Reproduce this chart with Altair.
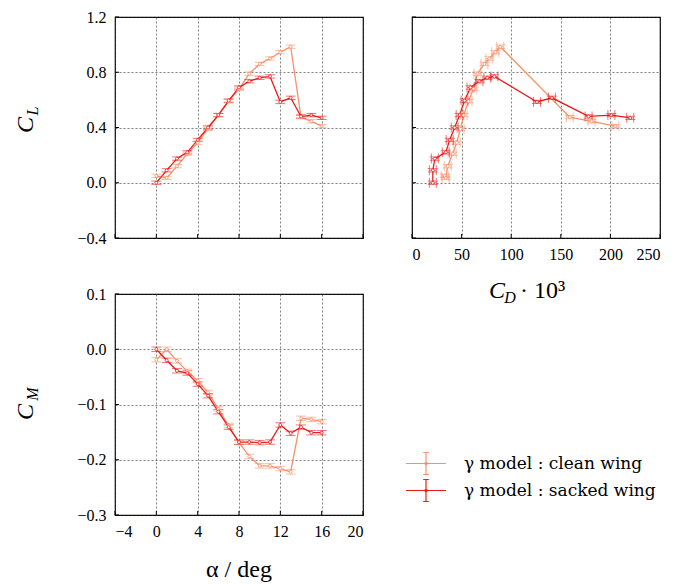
import altair as alt
import pandas as pd

# ---------------- data ----------------
alpha = [0, 1, 2, 3, 4, 5, 6, 7, 8, 9, 10, 11, 12, 13, 14, 15, 16]

cl_clean = [0.05, 0.035, 0.12, 0.21, 0.29, 0.39, 0.49, 0.59, 0.68, 0.79, 0.86, 0.90, 0.945, 0.985, 0.475, 0.445, 0.41]
cl_sacked = [0.0, 0.09, 0.175, 0.22, 0.31, 0.40, 0.49, 0.595, 0.69, 0.735, 0.76, 0.77, 0.585, 0.615, 0.48, 0.49, 0.47]

cd_clean = [33, 34, 36, 41, 45, 49, 52, 57, 62, 66, 73, 78, 84, 89, 159, 181, 205]
cd_sacked = [21, 21, 23, 34, 38, 43, 48, 53, 59, 68, 76, 83, 126, 141, 178, 201, 220]

cm_clean = [-0.019, 0.0, -0.021, -0.040, -0.057, -0.078, -0.108, -0.138, -0.169, -0.194, -0.211, -0.211, -0.216, -0.222, -0.125, -0.127, -0.131]
cm_sacked = [0.0, -0.020, -0.039, -0.043, -0.063, -0.084, -0.113, -0.141, -0.168, -0.168, -0.169, -0.168, -0.137, -0.152, -0.141, -0.151, -0.151]

cl_err = [0.012] * 17
cd_err = [3.5] * 17
cm_err = [0.004] * 17

series_names = ["γ model : clean wing", "γ model : sacked wing"]
series_colors = ["#F8916A", "#EB1B1B"]

alpha_ticks = [-4, 0, 4, 8, 12, 16, 20]
cl_ticks = [-0.4, 0.0, 0.4, 0.8, 1.2]
cd_ticks = [0, 50, 100, 150, 200, 250]
cm_ticks = [-0.3, -0.2, -0.1, 0.0, 0.1]

# ---------------- table ----------------
rows = []
for name, cl, cd, cm in [(series_names[0], cl_clean, cd_clean, cm_clean),
                         (series_names[1], cl_sacked, cd_sacked, cm_sacked)]:
    for i, a in enumerate(alpha):
        rows.append(dict(series=name, alpha=a,
                         CL=cl[i], CL_lo=cl[i] - cl_err[i], CL_hi=cl[i] + cl_err[i],
                         CD=cd[i], CD_lo=cd[i] - cd_err[i], CD_hi=cd[i] + cd_err[i],
                         CM=cm[i], CM_lo=cm[i] - cm_err[i], CM_hi=cm[i] + cm_err[i]))
df = pd.DataFrame(rows)

W, H = 248, 221
FONT = "Liberation Serif"
LEG_FONT = "DejaVu Serif"
LABEL_SIZE = 16

color_scale = alt.Scale(domain=series_names, range=series_colors)

legend_path = ("M-1,0H1M0,-0.55V0.55M-0.14,-0.55H0.14M-0.14,0.55H0.14"
               "M0.05,0A0.05,0.05 0 1,1 -0.05,0A0.05,0.05 0 1,1 0.05,0")


def panel(xf, xdom, xticks, xfmt, yf, ydom, yticks, yfmt,
          show_xlabels, show_ylabels, xerr=False, legend=None):
    xs = alt.Scale(domain=xdom, nice=False, zero=False)
    ys = alt.Scale(domain=ydom, nice=False, zero=False)
    xax = alt.Axis(values=xticks, title=None, labels=show_xlabels, ticks=False,
                   domain=False, grid=True, format=xfmt, labelPadding=8,
                   labelFont=FONT, labelFontSize=LABEL_SIZE, labelColor="black",
                   gridColor="#333333", gridDash=[2, 2], gridWidth=0.7, gridOpacity=0.9)
    yax = alt.Axis(values=yticks, title=None, labels=show_ylabels, ticks=False,
                   domain=False, grid=True, format=yfmt, labelPadding=9,
                   labelFont=FONT, labelFontSize=LABEL_SIZE, labelColor="black",
                   gridColor="#333333", gridDash=[2, 2], gridWidth=0.7, gridOpacity=0.9)
    col = alt.Color("series:N", scale=color_scale, legend=legend)
    base = alt.Chart(df)
    X = lambda f: alt.X(f"{f}:Q", scale=xs, axis=xax)
    Y = lambda f: alt.Y(f"{f}:Q", scale=ys, axis=yax)

    layers = []
    layers.append(base.mark_line(strokeWidth=1.3).encode(
        x=X(xf), y=Y(yf), color=col, order=alt.Order("alpha:Q")))
    # vertical error bars with caps
    layers.append(base.mark_rule(strokeWidth=1, opacity=0.6).encode(
        x=X(xf), y=Y(yf + "_lo"), y2=alt.Y2(yf + "_hi"), color=col))
    for s in ("_lo", "_hi"):
        layers.append(base.mark_tick(orient="horizontal", size=10, thickness=1, opacity=0.6).encode(
            x=X(xf), y=Y(yf + s), color=col))
    if xerr:
        layers.append(base.mark_rule(strokeWidth=1, opacity=0.6).encode(
            y=Y(yf), x=X(xf + "_lo"), x2=alt.X2(xf + "_hi"), color=col))
        for s in ("_lo", "_hi"):
            layers.append(base.mark_tick(orient="vertical", size=10, thickness=1, opacity=0.6).encode(
                x=X(xf + s), y=Y(yf), color=col))
    layers.append(base.mark_point(shape="circle", size=9, fill="white", fillOpacity=1,
                                  strokeWidth=0.8, opacity=1).encode(
        x=X(xf), y=Y(yf), color=col))
    # inward axis ticks (bottom and left)
    xt = alt.Chart(pd.DataFrame({"v": xticks})).mark_rule(color="black", strokeWidth=1).encode(
        x=alt.X("v:Q", scale=xs, axis=xax), y=alt.value(H), y2=alt.value(H - 4))
    yt = alt.Chart(pd.DataFrame({"v": yticks})).mark_rule(color="black", strokeWidth=1).encode(
        y=alt.Y("v:Q", scale=ys, axis=yax), x=alt.value(0), x2=alt.value(4))
    layers += [xt, yt]
    return layers


def txt(s, x, y, size, italic=False, angle=0, align="center", baseline="middle"):
    kw = dict(font=FONT, fontSize=size, color="black", align=align, baseline=baseline, angle=angle)
    if italic:
        kw["fontStyle"] = "italic"
    return alt.Chart(pd.DataFrame({"t": [s]})).mark_text(**kw).encode(
        text="t:N", x=alt.value(x), y=alt.value(y))


# top-left: CL vs alpha
tl_layers = panel("alpha", [-4, 20], alpha_ticks, "d", "CL", [-0.4, 1.2], cl_ticks, ".1f",
                  show_xlabels=False, show_ylabels=True)
tl_layers += [txt("C", -89, 108, 24, italic=True, angle=270),
              txt("L", -82, 94, 16, italic=True, angle=270)]
top_left = alt.layer(*tl_layers).properties(width=W, height=H)

# top-right: CL vs CD
tr_layers = panel("CD", [0, 250], cd_ticks, "d", "CL", [-0.4, 1.2], cl_ticks, ".1f",
                  show_xlabels=True, show_ylabels=False, xerr=True)
tr_layers += [txt("C", 85, 274, 24, italic=True),
              txt("D", 98, 281, 16, italic=True),
              txt("· 10³", 108, 274, 24, align="left")]
top_right = alt.layer(*tr_layers).properties(width=W, height=H)

# bottom-left: CM vs alpha
leg = alt.Legend(orient="none", legendX=290, legendY=157, title=None,
                 symbolType=legend_path, symbolSize=1600, symbolStrokeWidth=1.2,
                 symbolFillColor="white", symbolOpacity=1,
                 clipHeight=25, rowPadding=2, labelFont=LEG_FONT, labelFontSize=17,
                 labelColor="black", labelOffset=17, labelLimit=400, padding=0)
bl_layers = panel("alpha", [-4, 20], alpha_ticks, "d", "CM", [-0.3, 0.1], cm_ticks, ".1f",
                  show_xlabels=True, show_ylabels=True, legend=leg)
bl_layers += [txt("C", -89, 118, 24, italic=True, angle=270),
              txt("M", -82, 100, 16, italic=True, angle=270),
              txt("α / deg", W / 2, 276, 24)]
bottom_left = alt.layer(*bl_layers).properties(width=W, height=H)

chart = alt.concat(top_left, top_right, bottom_left, columns=2,
                   spacing={"row": 56, "column": 49}, bounds="flush").resolve_legend(
    color="independent").properties(
    padding={"left": 5, "top": 0, "right": 5, "bottom": 0}, background="white"
).configure_view(stroke="black", strokeWidth=1.2)

chart.save("out.html", embed_options={"renderer": "svg", "actions": False})
